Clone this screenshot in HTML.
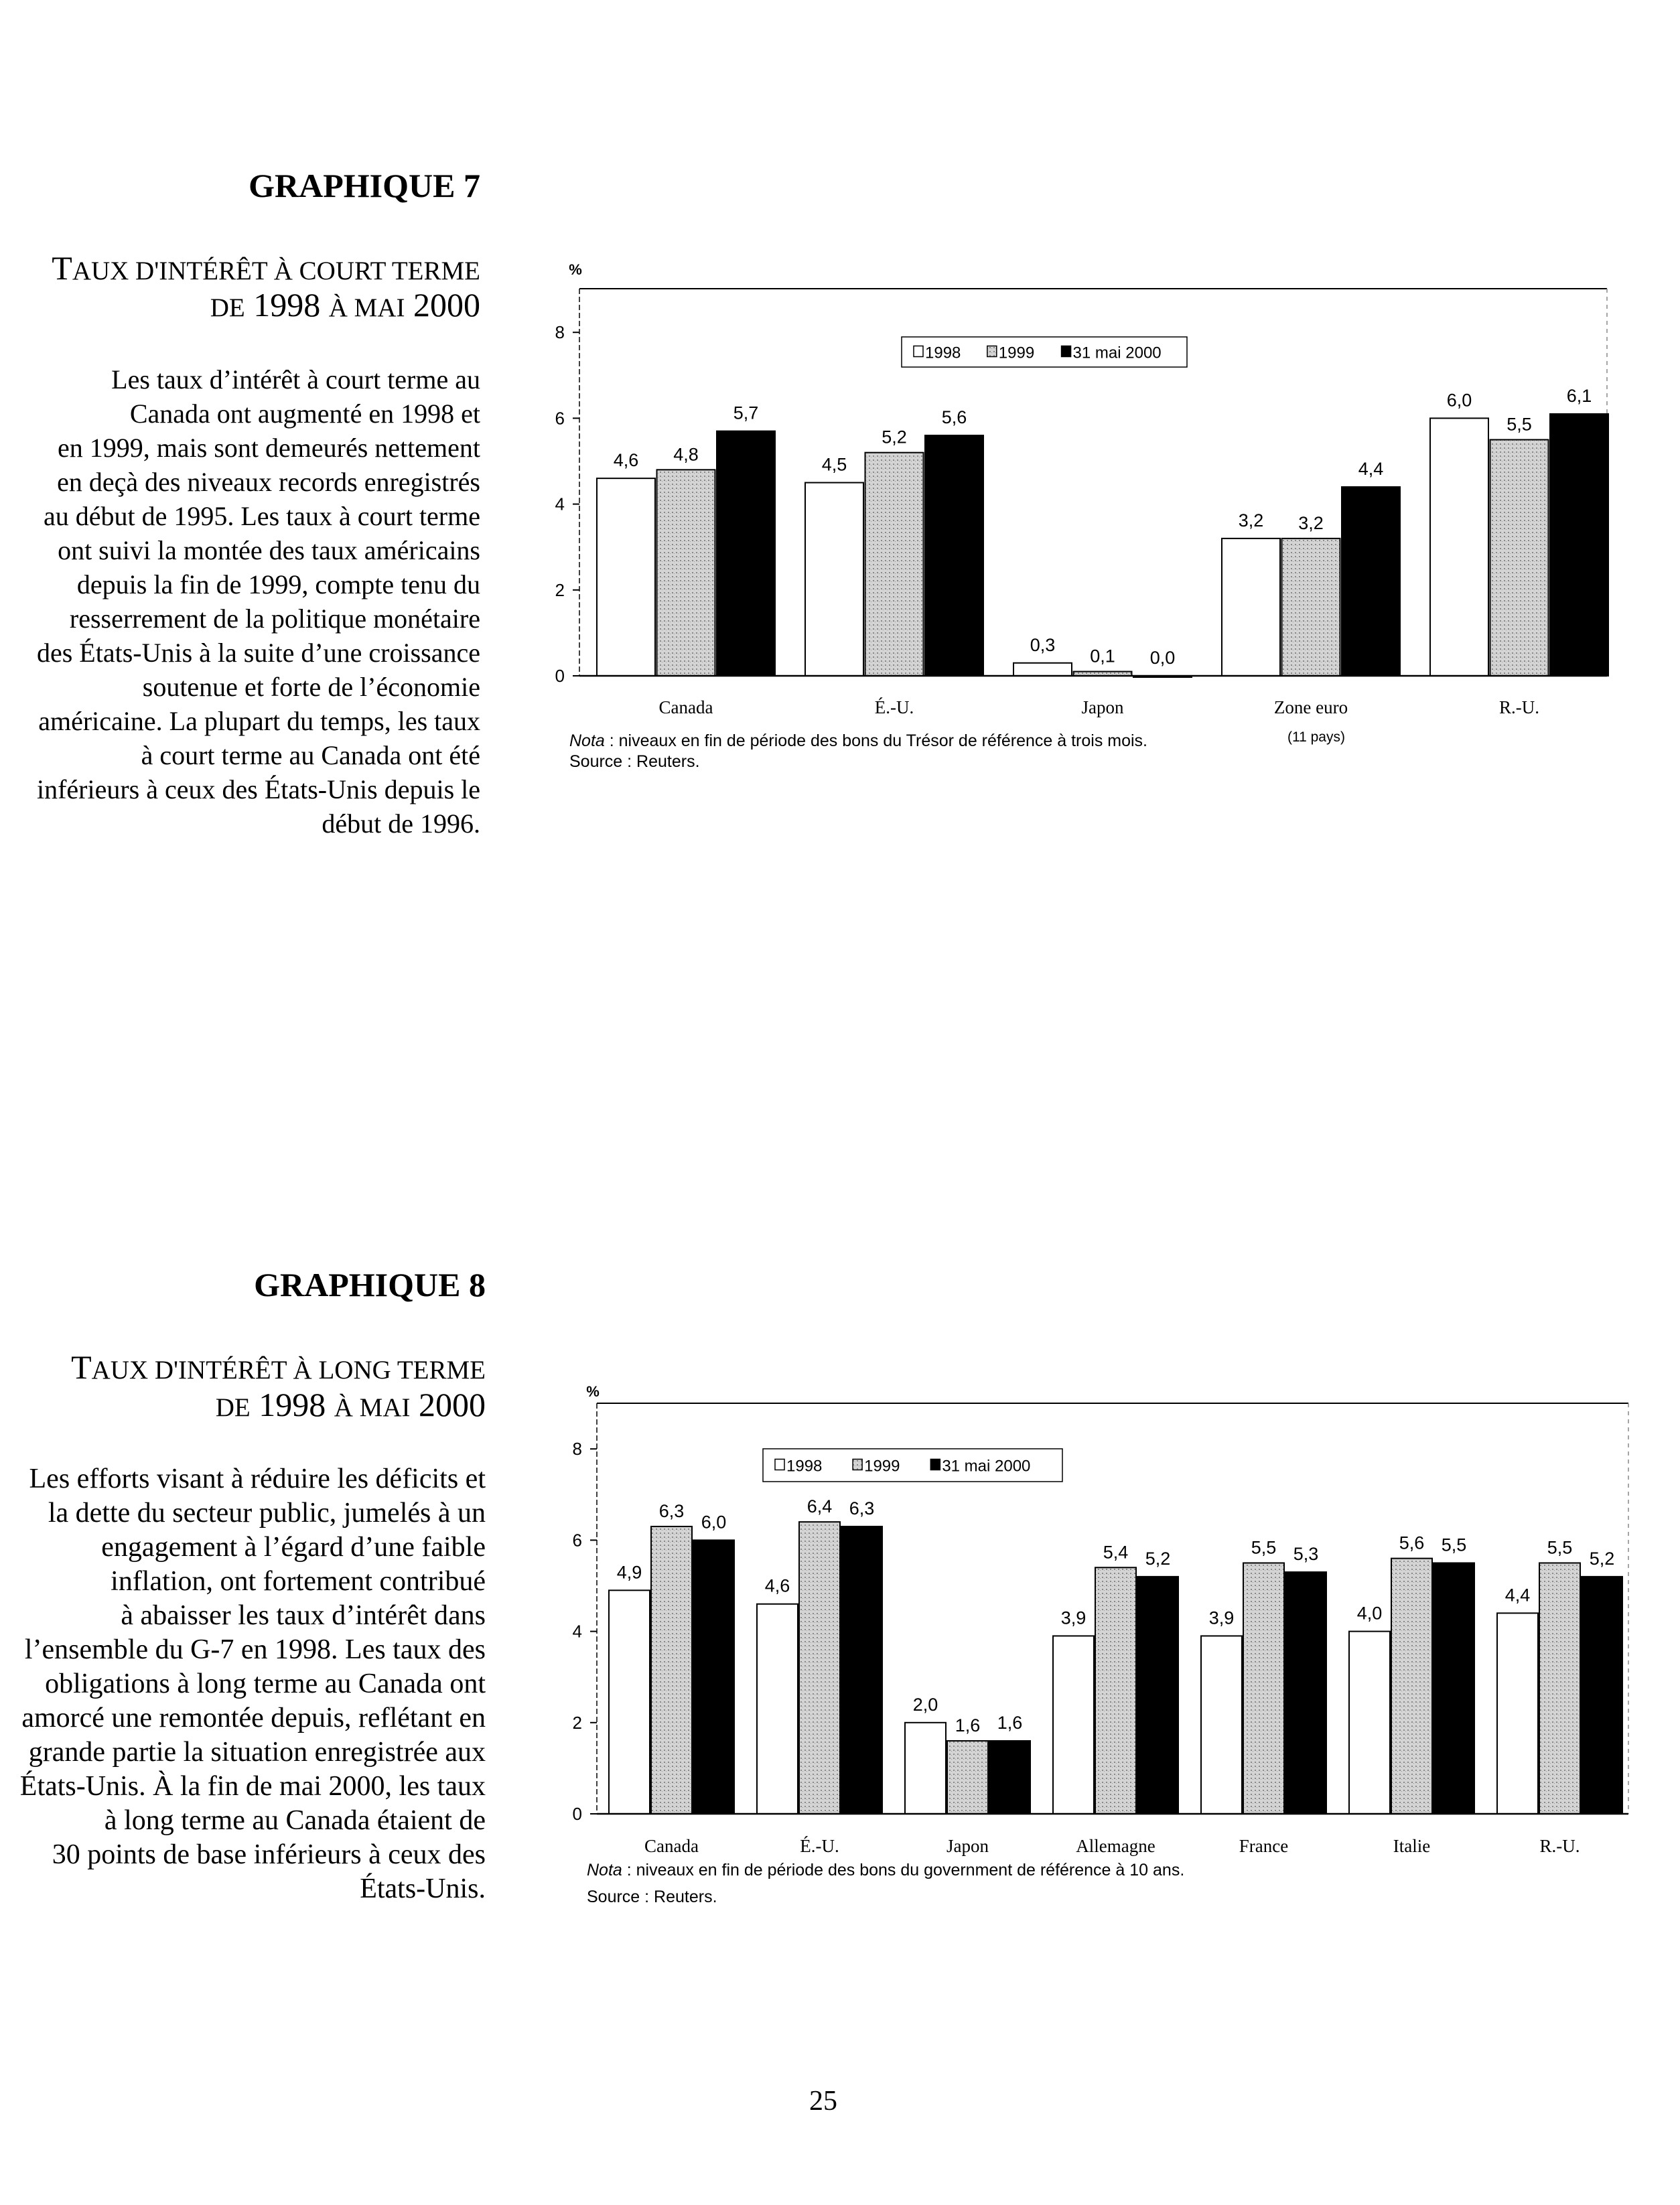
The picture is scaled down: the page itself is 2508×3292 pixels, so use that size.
<!DOCTYPE html>
<html><head><meta charset="utf-8"><style>
html,body{margin:0;padding:0;background:#fff}
svg{display:block}
.ser{font-family:"Liberation Serif",serif}
.san{font-family:"Liberation Sans",sans-serif}
</style></head><body>
<svg id="page" width="2508" height="3292" viewBox="0 0 2508 3292" xmlns="http://www.w3.org/2000/svg">
<defs>
<pattern id="dots" width="6" height="6" patternUnits="userSpaceOnUse"><rect width="6" height="6" fill="#d4d4d4"/><rect x="1" y="2" width="2" height="2" fill="#888"/><rect x="4" y="4" width="1" height="1" fill="#999"/></pattern>
</defs>
<g class="ser" font-size="40" fill="#000" text-anchor="end">
<text x="717" y="294" font-weight="bold" font-size="50">GRAPHIQUE 7</text>
<text x="717" y="417" font-size="50">T<tspan font-size="39">AUX D'INTÉRÊT À COURT TERME</tspan></text>
<text x="717" y="472" font-size="50"><tspan font-size="39">DE</tspan> 1998 <tspan font-size="39">À MAI</tspan> 2000</text>
<g>
<text x="717" y="580">Les taux d’intérêt à court terme au</text>
<text x="717" y="631">Canada ont augmenté en 1998 et</text>
<text x="717" y="682">en 1999, mais sont demeurés nettement</text>
<text x="717" y="733">en deçà des niveaux records enregistrés</text>
<text x="717" y="784">au début de 1995. Les taux à court terme</text>
<text x="717" y="835">ont suivi la montée des taux américains</text>
<text x="717" y="886">depuis la fin de 1999, compte tenu du</text>
<text x="717" y="937">resserrement de la politique monétaire</text>
<text x="717" y="988">des États-Unis à la suite d’une croissance</text>
<text x="717" y="1039">soutenue et forte de l’économie</text>
<text x="717" y="1090">américaine. La plupart du temps, les taux</text>
<text x="717" y="1141">à court terme au Canada ont été</text>
<text x="717" y="1192">inférieurs à ceux des États-Unis depuis le</text>
<text x="717" y="1243">début de 1996.</text>
</g>
<text x="725" y="1935" font-weight="bold" font-size="50">GRAPHIQUE 8</text>
<text x="725" y="2058" font-size="50">T<tspan font-size="39">AUX D'INTÉRÊT À LONG TERME</tspan></text>
<text x="725" y="2114" font-size="50"><tspan font-size="39">DE</tspan> 1998 <tspan font-size="39">À MAI</tspan> 2000</text>
<g font-size="42">
<text x="725" y="2221">Les efforts visant à réduire les déficits et</text>
<text x="725" y="2272">la dette du secteur public, jumelés à un</text>
<text x="725" y="2323">engagement à l’égard d’une faible</text>
<text x="725" y="2374">inflation, ont fortement contribué</text>
<text x="725" y="2425">à abaisser les taux d’intérêt dans</text>
<text x="725" y="2476">l’ensemble du G-7 en 1998. Les taux des</text>
<text x="725" y="2527">obligations à long terme au Canada ont</text>
<text x="725" y="2578">amorcé une remontée depuis, reflétant en</text>
<text x="725" y="2629">grande partie la situation enregistrée aux</text>
<text x="725" y="2680">États-Unis. À la fin de mai 2000, les taux</text>
<text x="725" y="2731">à long terme au Canada étaient de</text>
<text x="725" y="2782">30 points de base inférieurs à ceux des</text>
<text x="725" y="2833">États-Unis.</text>
</g>
<text x="1250" y="3150" font-size="42">25</text>
</g>
<g id="c1"></g>
<g id="c2"></g>
</svg>
<script>
const cats1 = ["Canada","É.-U.","Japon","Zone euro","R.-U."];
const v1998a = [4.6,4.5,0.3,3.2,6.0];
const v1999a = [4.8,5.2,0.1,3.2,5.5];
const v2000a = [5.7,5.6,0.0,4.4,6.1];
const cats2 = ["Canada","É.-U.","Japon","Allemagne","France","Italie","R.-U."];
const v1998b = [4.9,4.6,2.0,3.9,3.9,4.0,4.4];
const v1999b = [6.3,6.4,1.6,5.4,5.5,5.6,5.5];
const v2000b = [6.0,6.3,1.6,5.2,5.3,5.5,5.2];
const yTicks = [0,2,4,6,8];
const seriesNames = ["1998","1999","31 mai 2000"];
const NS="http://www.w3.org/2000/svg";
function mk(parent,tag,attrs,txt){const e=document.createElementNS(NS,tag);for(const k in attrs)e.setAttribute(k,attrs[k]);if(txt!==undefined)e.textContent=txt;parent.appendChild(e);return e;}
const fills=["#fff","url(#dots)","#000"];
function chart(g,o,cats,series,pfx){
  const y=v=>o.zero-v*o.unit;
  const l=mk(g,"line",{x1:o.ax,x2:o.right,y1:o.top,y2:o.top,stroke:"#000","stroke-width":2});
  
  
  const r=mk(g,"line",{x1:o.right,x2:o.right,y1:o.top,y2:o.zero,stroke:"#888","stroke-width":1.5,"stroke-dasharray":"6 6"});
  
  
  const ya=mk(g,"line",{x1:o.ax,x2:o.ax,y1:o.top,y2:o.zero,stroke:"#000","stroke-width":1.5,"stroke-dasharray":"8 4"});
  
  
  const pc=mk(g,"text",{x:o.ax-6,y:o.pctY,"font-size":22,"font-family":"Liberation Sans",fill:"#000","text-anchor":"middle","font-weight":"bold"},"%");
  
  
  yTicks.forEach(t=>{
    const tk=mk(g,"line",{x1:o.ax-10,x2:o.ax,y1:y(t),y2:y(t),stroke:"#000","stroke-width":2});
    
    
    const tl=mk(g,"text",{x:o.ax-22,y:y(t)+9,"font-size":26,"font-family":"Liberation Sans","text-anchor":"end"},String(t));
    
    
  });
  cats.forEach((c,i)=>{
    const gx=o.start+i*o.gstep;
    series.forEach((s,j)=>{
      const v=s[i];const x=gx+j*o.bstep;
      const b=mk(g,"rect",{x:x,y:y(v),width:o.bw,height:Math.max(o.zero-y(v),2),fill:fills[j],stroke:"#000","stroke-width":2});
      
      
      const t=mk(g,"text",{x:x+o.bw/2,y:y(v)-(j==1?14:18),"font-size":27,"font-family":"Liberation Sans","text-anchor":"middle"},v.toFixed(1).replace(".",","));
      
      
    });
    const cl=mk(g,"text",{x:gx+(o.bstep*2+o.bw)/2,y:o.catY,"font-size":27,"font-family":"Liberation Serif","text-anchor":"middle"},c);
    
    
  });
  const xa=mk(g,"line",{x1:o.ax,x2:o.right,y1:o.zero,y2:o.zero,stroke:"#000","stroke-width":2.5});
  
  
  const lg=mk(g,"g",{});
  
  
  mk(lg,"rect",{x:o.lx,y:o.ly,width:o.lw,height:o.lh,fill:"#fff",stroke:"#000","stroke-width":1.5});
  const lxs=[o.lx+18,o.lx+o.lw*0.3,o.lx+o.lw*0.56];
  seriesNames.forEach((n,j)=>{
    const sw=mk(lg,"rect",{x:lxs[j],y:o.ly+o.lh/2-9,width:14,height:16,fill:fills[j],stroke:"#000","stroke-width":1.5});
    
    
    const lt=mk(lg,"text",{x:lxs[j]+17,y:o.ly+o.lh/2+9,"font-size":24,"font-family":"Liberation Sans"},n);
    
    
  });
  o.notes.forEach((n,k)=>{
    const nt=mk(g,"text",{x:o.ax-15,y:o.noteY+k*o.noteStep,"font-size":25,"font-family":"Liberation Sans"});
    
    
    if(n[0]){mk(nt,"tspan",{"font-style":"italic"},n[0]);}
    mk(nt,"tspan",{},n[1]);
  });
}
chart(document.getElementById("c1"),{ax:865,right:2399,top:431,zero:1009,unit:64.1,pctY:410,start:891,gstep:311,bstep:89.5,bw:87,catY:1065,lx:1346,ly:503,lw:426,lh:45,noteY:1114,noteStep:31,notes:[["Nota"," : niveaux en fin de période des bons du Trésor de référence à trois mois."],["","Source :  Reuters."]]},cats1,[v1998a,v1999a,v2000a],"chart7");
const ex=mk(document.getElementById("c1"),"text",{x:1965,y:1107,"font-size":21,"font-family":"Liberation Sans","text-anchor":"middle"},"(11 pays)");


chart(document.getElementById("c2"),{ax:891,right:2431,top:2095,zero:2708,unit:68.1,pctY:2085,start:909,gstep:221,bstep:63,bw:61,catY:2765,lx:1139,ly:2163,lw:447,lh:49,noteY:2800,noteStep:40,notes:[["Nota"," : niveaux en fin de période des bons du government de référence à 10 ans."],["","Source : Reuters."]]},cats2,[v1998b,v1999b,v2000b],"chart8");
</script>
</body></html>
